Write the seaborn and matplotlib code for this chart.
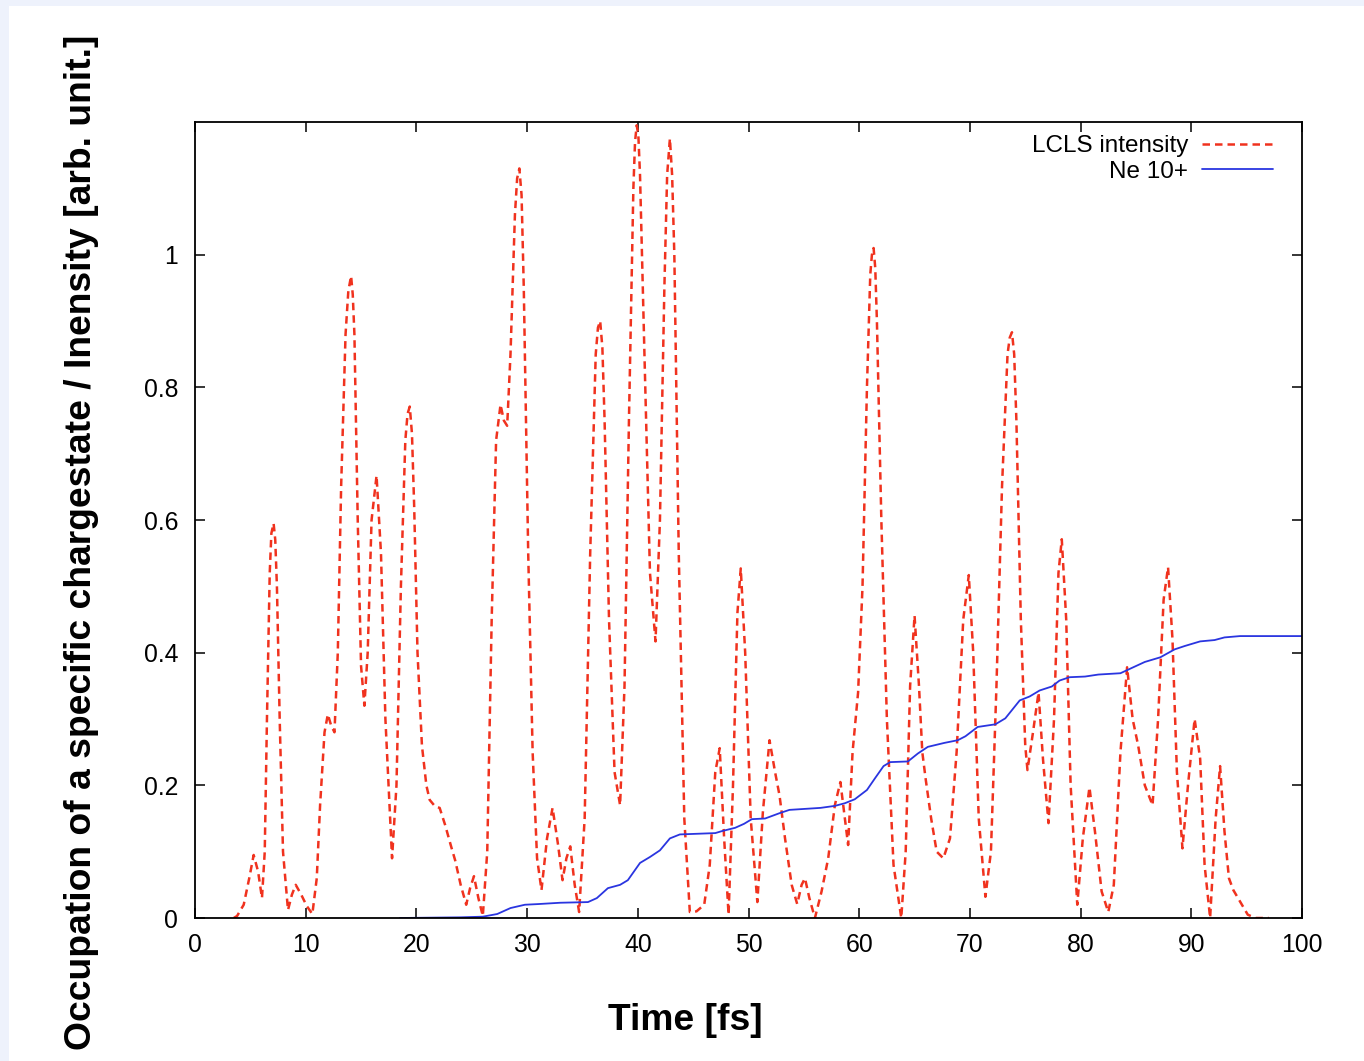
import matplotlib
matplotlib.use("Agg")
import matplotlib.pyplot as plt
import matplotlib.patches as mpatches
import seaborn as sns
import pandas as pd

# ---------------- data ----------------
lcls_t = [3.5, 3.8, 4.4, 4.9, 5.3, 5.7, 6.05, 6.3, 6.5, 6.75, 6.9, 7.1, 7.25, 7.4, 7.65, 7.95, 8.4,
          8.75, 9.1, 9.6, 10.1, 10.6, 11.0, 11.3, 11.7, 12.0, 12.3, 12.6, 12.9, 13.2, 13.6, 13.85,
          14.1, 14.25, 14.4, 14.7, 15.0, 15.3, 15.6, 15.95, 16.4, 16.8, 17.2, 17.8, 18.2, 18.6,
          19.0, 19.2, 19.4, 19.6, 19.8, 20.1, 20.5, 20.9, 21.2, 21.7, 22.1, 22.6, 23.1, 23.5, 24.0,
          24.5, 24.85, 25.2, 25.6, 26.0, 26.4, 26.8, 27.2, 27.6, 27.9, 28.2, 28.5, 28.9, 29.1,
          29.3, 29.5, 29.7, 30.1, 30.5, 30.9, 31.3, 31.8, 32.3, 32.8, 33.2, 33.55, 33.9, 34.3,
          34.7, 35.2, 35.7, 36.2, 36.4, 36.6, 36.8, 37.0, 37.4, 37.9, 38.4, 38.8, 39.2, 39.6, 39.75,
          39.9, 40.05, 40.2, 40.6, 41.1, 41.6, 42.0, 42.4, 42.65, 42.9, 43.1, 43.3, 43.7, 44.2,
          44.7, 45.3, 46.0, 46.5, 47.0, 47.4, 47.8, 48.2, 48.6, 49.0, 49.3, 49.7, 50.2, 50.8,
          51.3, 51.9, 52.4, 52.8, 53.3, 53.9, 54.4, 54.8, 55.1, 55.5, 56.0, 56.6, 57.2, 57.8,
          58.3, 58.7, 59.0, 59.4, 59.9, 60.3, 60.7, 61.0, 61.15, 61.3, 61.45, 61.6, 62.0, 62.5,
          63.1, 63.8, 64.2, 64.6, 65.0, 65.4, 65.7, 66.0, 66.5, 67.0, 67.6, 68.2, 68.8, 69.4,
          69.9, 70.3, 70.8, 71.4, 71.9, 72.4, 72.9, 73.4, 73.6, 73.8, 74.0, 74.2, 74.6, 75.0,
          75.2, 75.7, 76.2, 76.6, 77.1, 77.6, 78.0, 78.3, 78.7, 79.1, 79.7, 80.2, 80.8, 81.3,
          81.9, 82.5, 83.0, 83.6, 84.2, 84.7, 85.2, 85.8, 86.5, 87.0, 87.5, 87.9, 88.3, 88.7,
          89.2, 89.7, 90.3, 90.8, 91.2, 91.7, 92.2, 92.6, 93.0, 93.4, 93.8, 94.4, 95.1,
          95.8, 97.0]
lcls_y = [0.0, 0.003, 0.02, 0.06, 0.095, 0.07, 0.03, 0.1, 0.3, 0.52, 0.58, 0.595, 0.57, 0.5, 0.3, 0.1, 0.012,
          0.035, 0.05, 0.035, 0.018, 0.006, 0.06, 0.17, 0.28, 0.307, 0.29, 0.28, 0.4, 0.65, 0.88, 0.945,
          0.968, 0.94, 0.88, 0.6, 0.38, 0.32, 0.4, 0.6, 0.667, 0.55, 0.3, 0.09, 0.2, 0.5,
          0.72, 0.76, 0.771, 0.73, 0.62, 0.4, 0.26, 0.2, 0.178, 0.168, 0.166, 0.14, 0.11, 0.087, 0.05,
          0.02, 0.045, 0.063, 0.03, 0.003, 0.1, 0.45, 0.72, 0.774, 0.75, 0.742, 0.85, 1.06, 1.115,
          1.13, 1.09, 0.95, 0.55, 0.25, 0.09, 0.042, 0.12, 0.166, 0.11, 0.057, 0.09, 0.108, 0.05,
          0.009, 0.15, 0.55, 0.85, 0.89, 0.90, 0.86, 0.75, 0.45, 0.22, 0.17, 0.35, 0.75, 1.1, 1.17,
          1.195, 1.18, 1.12, 0.85, 0.52, 0.417, 0.6, 0.95, 1.12, 1.175, 1.12, 1.0, 0.55, 0.15,
          0.009, 0.01, 0.02, 0.08, 0.22, 0.256, 0.12, 0.005, 0.2, 0.46, 0.527, 0.4, 0.15, 0.024,
          0.16, 0.268, 0.22, 0.185, 0.12, 0.05, 0.021, 0.05, 0.06, 0.03, 0.0, 0.04, 0.09, 0.17,
          0.205, 0.15, 0.11, 0.25, 0.34, 0.5, 0.8, 0.97, 1.0, 1.01, 0.98, 0.9, 0.6, 0.3,
          0.08, 0.0, 0.1, 0.35, 0.456, 0.35, 0.25, 0.21, 0.15, 0.1, 0.09, 0.12, 0.25, 0.45,
          0.517, 0.4, 0.15, 0.032, 0.1, 0.35, 0.65, 0.85, 0.875, 0.883, 0.85, 0.75, 0.45, 0.26,
          0.223, 0.28, 0.34, 0.24, 0.143, 0.3, 0.52, 0.571, 0.45, 0.2, 0.02, 0.12, 0.197, 0.13,
          0.04, 0.009, 0.05, 0.25, 0.378, 0.3, 0.26, 0.2, 0.17, 0.3, 0.48, 0.529, 0.42, 0.22,
          0.105, 0.2, 0.30, 0.24, 0.08, 0.0, 0.15, 0.229, 0.13, 0.06, 0.042, 0.025, 0.005,
          0.0, 0.0]

ne_t = [18.5, 24.0, 26.0, 27.3, 28.5, 29.8, 31.0, 33.0, 35.5, 36.3, 37.3, 38.4, 39.1, 40.2,
        41.1, 42.0, 42.9, 43.8, 47.0, 47.6, 48.8, 49.6, 50.3, 51.5, 52.8, 53.7, 56.5, 57.8,
        58.7, 59.6, 60.7, 61.4, 62.2, 62.8, 64.4, 65.3, 66.2, 67.7, 68.9, 69.6, 70.7, 72.3,
        73.2, 74.5, 75.4, 76.3, 77.4, 78.1, 79.0, 80.4, 81.6, 83.6, 84.5, 85.8, 87.2, 88.5,
        89.4, 90.8, 92.1, 93.0, 94.4, 100.0]
ne_y = [0.0, 0.001, 0.002, 0.006, 0.015, 0.02, 0.021, 0.023, 0.024, 0.03, 0.045, 0.05, 0.057, 0.083,
        0.092, 0.102, 0.12, 0.126, 0.128, 0.131, 0.136, 0.142, 0.149, 0.15, 0.158, 0.163, 0.166, 0.169,
        0.173, 0.179, 0.193, 0.21, 0.229, 0.235, 0.236, 0.248, 0.258, 0.264, 0.268, 0.274, 0.288, 0.292,
        0.301, 0.328, 0.334, 0.343, 0.349, 0.358, 0.363, 0.364, 0.367, 0.369, 0.376, 0.386, 0.393, 0.405,
        0.41, 0.417, 0.419, 0.423, 0.425, 0.425]

x_ticks = [0, 10, 20, 30, 40, 50, 60, 70, 80, 90, 100]
y_ticks = [0, 0.2, 0.4, 0.6, 0.8, 1.0]
y_tick_labels = ["0", "0.2", "0.4", "0.6", "0.8", "1"]

# ---------------- style ----------------
sns.set_style("ticks")
plt.rcParams["font.family"] = ["Liberation Sans", "DejaVu Sans"]
plt.rcParams["text.color"] = "black"
plt.rcParams["axes.labelcolor"] = "black"
plt.rcParams["xtick.color"] = "black"
plt.rcParams["ytick.color"] = "black"

W, H = 1364, 1061
fig = plt.figure(figsize=(W / 100, H / 100), dpi=100)
fig.patch.set_facecolor("#eef2fc")
bg = mpatches.Rectangle((9 / W, 0), 1, 1 - 6 / H, transform=fig.transFigure,
                        facecolor="white", edgecolor="none", zorder=-10)
fig.add_artist(bg)

ax = fig.add_axes([195 / W, 1 - 918 / H, (1302 - 195) / W, (918 - 122) / H])
ax.set_facecolor("white")

df_l = pd.DataFrame({"t": lcls_t, "v": lcls_y})
df_n = pd.DataFrame({"t": ne_t, "v": ne_y})

sns.lineplot(data=df_l, x="t", y="v", ax=ax, color="#f0321e", linewidth=1.8,
             linestyle=(0, (3.0, 2.0)), label="LCLS intensity", estimator=None, sort=False)
sns.lineplot(data=df_n, x="t", y="v", ax=ax, color="#2a35e0", linewidth=1.3,
             label="Ne 10+", estimator=None, sort=False)

ax.set_xlim(0, 100)
ax.set_ylim(0, 1.2)
ax.set_xticks(x_ticks)
ax.set_xticklabels([str(v) for v in x_ticks])
ax.set_yticks(y_ticks)
ax.set_yticklabels(y_tick_labels)
ax.tick_params(direction="in", length=7, width=1.1, top=True, right=True,
               labelsize=17.8, colors="black")
ax.tick_params(axis="x", pad=11)
ax.tick_params(axis="y", pad=12)
for s in ax.spines.values():
    s.set_visible(True)
    s.set_linewidth(1.3)
    s.set_color("black")

ax.set_xlabel("")
ax.set_ylabel("")
fig.text(685 / W, 1 - 1020 / H, "Time [fs]", fontsize=26.8, fontweight="bold",
         ha="center", va="center", color="black")
fig.text(82 / W, 1 - 542 / H, "Occupation of a specific chargestate / Inensity [arb. unit.]",
         fontsize=26.8, fontweight="bold", rotation=90, ha="center", va="center", color="black")

leg = ax.legend(loc="upper right", frameon=False, markerfirst=False, fontsize=17.5,
                handlelength=2.9, handletextpad=0.6, labelspacing=0.15,
                borderaxespad=0.3, bbox_to_anchor=(1.0 - 12 / 1107, 1.0 + 4 / 796))

fig.savefig("out.png", dpi=100, facecolor=fig.get_facecolor())
